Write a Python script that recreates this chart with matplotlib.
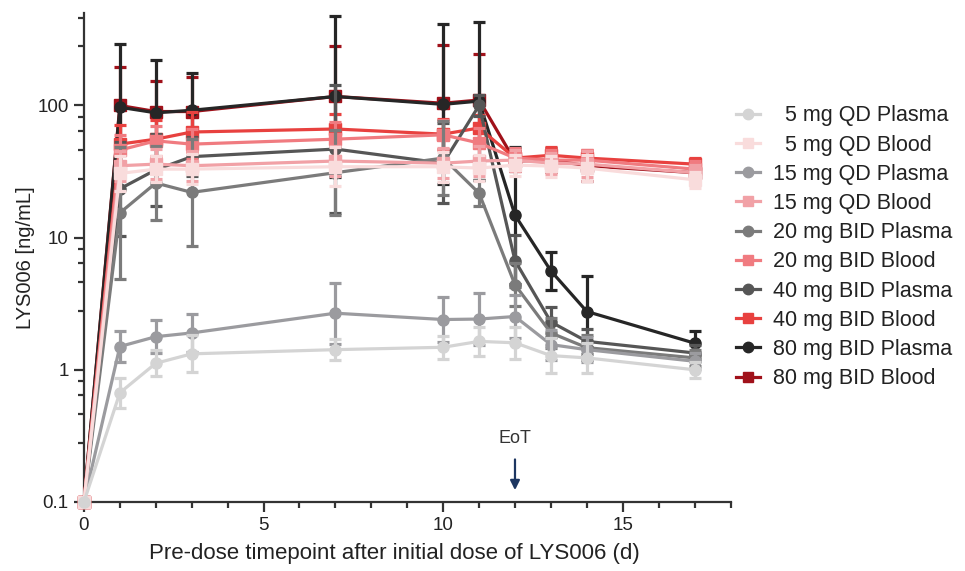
import numpy as np
import matplotlib
matplotlib.use('Agg')
import matplotlib.pyplot as plt
from matplotlib.lines import Line2D
from matplotlib.ticker import FixedLocator, NullFormatter

plt.rcParams['font.family'] = ['Liberation Sans', 'DejaVu Sans']
plt.rcParams['text.color'] = '#222222'
plt.rcParams['axes.labelcolor'] = '#222222'
plt.rcParams['xtick.color'] = '#222222'
plt.rcParams['ytick.color'] = '#222222'

# days after first dose
days = [0, 1, 2, 3, 7, 10, 11, 12, 13, 14, 17]

labels = ['  5 mg QD Plasma', '  5 mg QD Blood',
          '15 mg QD Plasma', '15 mg QD Blood',
          '20 mg BID Plasma', '20 mg BID Blood',
          '40 mg BID Plasma', '40 mg BID Blood',
          '80 mg BID Plasma', '80 mg BID Blood']

colours = ['#d4d4d4', '#f9dcdc', '#9b9b9f', '#f1a1a6', '#7b7b7b',
           '#f07b80', '#565656', '#e8413f', '#262626', '#a0111a']

markers = ['o', 's'] * 5

# geometric means (ng/mL)
p5_qd = [0.1, 0.67, 1.12, 1.32, 1.42, 1.48, 1.64, 1.60, 1.28, 1.23, 1.00]
b5_qd = [0.1, 30.6, 33.0, 33.0, 34.4, 34.4, 33.6, 35.4, 34.8, 33.6, 27.4]
p15_qd = [0.1, 1.50, 1.78, 1.90, 2.68, 2.40, 2.42, 2.53, 1.55, 1.42, 1.16]
b15_qd = [0.1, 35.0, 36.0, 35.0, 38.0, 36.6, 38.0, 38.6, 36.6, 36.0, 31.0]
p20_bid = [0.1, 15.4, 25.9, 22.0, 31.0, 40.0, 21.7, 4.4, 1.9, 1.47, 1.23]
b20_bid = [0.1, 46.0, 54.0, 51.0, 55.6, 60.0, 52.0, 40.0, 38.6, 38.6, 33.0]
p40_bid = [0.1, 23.4, 32.6, 41.0, 46.8, 36.6, 100.0, 6.7, 2.3, 1.64, 1.34]
b40_bid = [0.1, 51.0, 55.6, 63.0, 66.4, 60.7, 67.6, 40.0, 42.0, 40.0, 36.0]
p80_bid = [0.1, 97.0, 88.0, 92.0, 117.0, 102.0, 108.0, 14.8, 5.6, 2.76, 1.59]
b80_bid = [0.1, 100.0, 90.0, 90.0, 117.0, 104.0, 110.0, 38.0, 38.6, 35.0, 31.0]

# geometric SD factors (none at day 0)
p5_qd_gsd = [1.0, 1.30, 1.25, 1.38, 1.20, 1.22, 1.28, 1.32, 1.35, 1.30, 1.15]
b5_qd_gsd = [1.0, 1.35, 1.25, 1.30, 1.40, 1.30, 1.25, 1.20, 1.20, 1.25, 1.15]
p15_qd_gsd = [1.0, 1.32, 1.33, 1.40, 1.70, 1.47, 1.57, 1.45, 1.30, 1.25, 1.15]
b15_qd_gsd = [1.0, 1.30, 1.30, 1.30, 1.30, 1.30, 1.30, 1.20, 1.20, 1.25, 1.15]
p20_bid_gsd = [1.0, 3.15, 1.90, 2.55, 2.10, 1.90, 1.25, 1.45, 1.30, 1.25, 1.15]
b20_bid_gsd = [1.0, 1.30, 1.30, 1.30, 1.35, 1.30, 1.30, 1.20, 1.20, 1.20, 1.15]
p40_bid_gsd = [1.0, 2.27, 1.87, 1.40, 3.05, 2.00, 1.20, 1.57, 1.30, 1.25, 1.15]
b40_bid_gsd = [1.0, 1.39, 1.40, 1.42, 1.30, 1.30, 1.25, 1.15, 1.15, 1.15, 1.12]
p80_bid_gsd = [1.0, 3.00, 2.50, 1.90, 4.05, 4.04, 3.94, 3.30, 1.39, 1.86, 1.23]
b80_bid_gsd = [1.0, 1.96, 1.71, 1.83, 2.40, 2.77, 2.24, 1.20, 1.23, 1.30, 1.18]

means = [p5_qd, b5_qd, p15_qd, b15_qd, p20_bid, b20_bid, p40_bid, b40_bid, p80_bid, b80_bid]
gsds = [p5_qd_gsd, b5_qd_gsd, p15_qd_gsd, b15_qd_gsd, p20_bid_gsd, b20_bid_gsd,
        p40_bid_gsd, b40_bid_gsd, p80_bid_gsd, b80_bid_gsd]

fig = plt.figure(figsize=(9.65, 5.71), dpi=100)
ax = fig.add_axes([0.087, 0.121, 0.67, 0.856])

t = np.array(days, dtype=float)
handles = []
for i in range(len(labels)):
    m = np.array(means[i])
    g = np.array(gsds[i])
    z = 20 - 2 * i
    lo = m - m / g
    hi = m * g - m
    ax.errorbar(t[1:], m[1:], yerr=[lo[1:], hi[1:]], fmt='none', ecolor=colours[i],
                elinewidth=2.3, capsize=4.5, capthick=2.3, zorder=z)
    ax.plot(t, m, color=colours[i], marker=markers[i], markersize=8 if markers[i] == 'o' else 8.5,
            linewidth=2.3, zorder=z + 1, clip_on=False)
    handles.append(Line2D([], [], color=colours[i], marker=markers[i], markersize=7.5, linewidth=2.3))

ax.set_yscale('log')
ax.set_xlim(0, 18)
ax.set_ylim(0.1, 500)

ax.set_xticks([0, 5, 10, 15])
ax.xaxis.set_minor_locator(FixedLocator(np.arange(0, 19)))
ax.set_yticks([0.1, 1, 10, 100])
ax.set_yticklabels(['0.1', '1', '10', '100'])
minor = [d * (1 + 1.8 * k) for d in [0.1, 1, 10, 100] for k in range(1, 5)]
ax.yaxis.set_minor_locator(FixedLocator(minor))
ax.yaxis.set_minor_formatter(NullFormatter())

for s in ['top', 'right']:
    ax.spines[s].set_visible(False)
for s in ['left', 'bottom']:
    ax.spines[s].set_linewidth(1.6)
    ax.spines[s].set_color('#333333')
ax.tick_params(which='major', length=7, width=1.6, labelsize=13.5, color='#333333', pad=4)
ax.tick_params(which='minor', length=4, width=1.6, color='#333333')

ax.set_xlabel('Pre-dose timepoint after initial dose of LYS006 (d)', fontsize=16, labelpad=8)
ax.xaxis.set_label_coords(0.48, -0.085)
ax.set_ylabel('LYS006 [ng/mL]', fontsize=14.5, labelpad=2)

ax.annotate('', xy=(12, 0.117), xytext=(12, 0.22),
            arrowprops=dict(arrowstyle='-|>', color='#1d3661', lw=1.6, mutation_scale=14),
            zorder=30)
ax.text(12, 0.3, 'EoT', ha='center', va='center', fontsize=13, color='#333333')

fig.legend(handles=handles, labels=labels, loc='center left', bbox_to_anchor=(0.763, 0.567),
           frameon=False, fontsize=15.5, handlelength=1.1, handletextpad=0.6,
           labelspacing=0.38, borderpad=0, borderaxespad=0)

plt.savefig('out.png', dpi=100)
plt.close()
